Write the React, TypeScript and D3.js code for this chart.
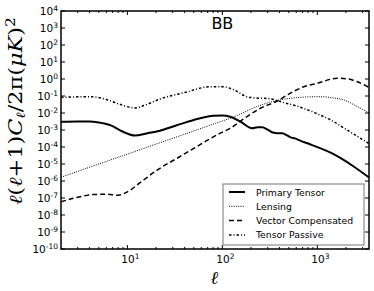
import React from "react";
import * as d3 from "d3";

// multipole values and BB spectra, l(l+1)C_l/2pi in uK^2
const tensorEll = [2, 3, 4, 5, 6.6, 9, 12, 16, 22, 32, 50, 81, 100, 121, 155, 206, 235, 262, 300, 340, 380, 427, 480, 522, 580, 667, 850, 1084, 1400, 1762, 2438, 3500];
const tensorCl = [3.1e-3, 3.2e-3, 3.2e-3, 2.8e-3, 1.95e-3, 7.9e-4, 4.7e-4, 6.3e-4, 9.1e-4, 1.78e-3, 3.9e-3, 6.9e-3, 7.1e-3, 6.0e-3, 3.1e-3, 1.26e-3, 1.45e-3, 1.45e-3, 1.05e-3, 7.1e-4, 6.5e-4, 6.5e-4, 4.8e-4, 3.7e-4, 3.2e-4, 2.3e-4, 1.4e-4, 8.3e-5, 4.5e-5, 2.2e-5, 6.9e-6, 1.6e-6];

const lensingEll = [2, 5, 10, 20, 50, 95, 121, 155, 214, 321, 500, 750, 1084, 1500, 1910, 2500, 3500];
const lensingCl = [1.66e-6, 1.0e-5, 3.8e-5, 1.48e-4, 8.7e-4, 3.1e-3, 4.9e-3, 8.7e-3, 2.0e-2, 4.4e-2, 7.1e-2, 8.7e-2, 9.1e-2, 7.6e-2, 5.8e-2, 2.8e-2, 1.0e-2];

const vectorEll = [2, 3, 4.4, 6, 8, 10, 14, 22, 32, 50, 95, 121, 180, 252, 378, 500, 721, 1000, 1625, 2000, 2600, 3500];
const vectorCl = [6.0e-8, 1.1e-7, 1.6e-7, 1.66e-7, 1.45e-7, 2.3e-7, 9.1e-7, 5.6e-6, 1.9e-5, 8.3e-5, 6.5e-4, 1.26e-3, 6.0e-3, 1.9e-2, 5.1e-2, 0.13, 0.35, 0.56, 1.1, 1.05, 0.71, 0.32];

const passiveEll = [2, 3, 4, 6, 8, 12, 16, 22, 40, 75, 100, 130, 182, 240, 296, 450, 615, 1000, 1380, 2000, 3500];
const passiveCl = [8.3e-2, 8.9e-2, 9.1e-2, 6.3e-2, 3.5e-2, 2.0e-2, 3.2e-2, 6.6e-2, 0.16, 0.35, 0.35, 0.24, 9.1e-2, 7.4e-2, 7.2e-2, 4.0e-2, 2.5e-2, 8.9e-3, 3.9e-3, 1.1e-3, 1.6e-4];

const xMajor = [10, 100, 1000];
const xExp = ["1", "2", "3"];
const yExps = [4, 3, 2, 1, 0, -1, -2, -3, -4, -5, -6, -7, -8, -9, -10];

const series = [
  { name: "Primary Tensor", ell: tensorEll, cl: tensorCl, width: 2, dash: "" },
  { name: "Lensing", ell: lensingEll, cl: lensingCl, width: 1, dash: "1,1.3" },
  { name: "Vector Compensated", ell: vectorEll, cl: vectorCl, width: 1.5, dash: "5,3" },
  { name: "Tensor Passive", ell: passiveEll, cl: passiveCl, width: 1.5, dash: "2.5,2,1,2" },
];

export default function App() {
  const width = 374;
  const height = 291;
  const margin = { top: 11, right: 5, bottom: 42, left: 61 };
  const x0 = margin.left;
  const x1 = width - margin.right;
  const y0 = margin.top;
  const y1 = height - margin.bottom;

  const x = d3.scaleLog().domain([2, 3500]).range([x0, x1]);
  const y = d3.scaleLog().domain([1e-10, 1e4]).range([y1, y0]);

  const line = d3
    .line<[number, number]>()
    .x((d) => x(d[0]))
    .y((d) => y(d[1]))
    .curve(d3.curveMonotoneX);

  // minor ticks on the x axis (2..9 per decade)
  const minor: number[] = [];
  [1, 10, 100, 1000].forEach((dec) => {
    for (let k = 2; k <= 9; k++) {
      const v = dec * k;
      if (v > 2 && v < 3500) minor.push(v);
    }
  });

  const sans = "DejaVu Sans, sans-serif";
  const serif = "DejaVu Serif, serif";

  return (
    <svg
      width={width}
      height={height}
      style={{ position: "absolute", left: 0, top: 0, background: "#fff" }}
    >
      <defs>
        <clipPath id="plot">
          <rect x={x0} y={y0} width={x1 - x0} height={y1 - y0} />
        </clipPath>
      </defs>

      <g clipPath="url(#plot)" fill="none" stroke="#000">
        {series.map((s) => (
          <path
            key={s.name}
            d={line(s.ell.map((e, i) => [e, s.cl[i]] as [number, number])) || ""}
            strokeWidth={s.width}
            strokeDasharray={s.dash}
          />
        ))}
      </g>

      {/* ticks, inward on all sides */}
      <g stroke="#000" strokeWidth={1}>
        {xMajor.map((v) => (
          <g key={"xm" + v}>
            <line x1={x(v)} x2={x(v)} y1={y1} y2={y1 - 4} />
            <line x1={x(v)} x2={x(v)} y1={y0} y2={y0 + 4} />
          </g>
        ))}
        {minor.map((v) => (
          <g key={"xn" + v}>
            <line x1={x(v)} x2={x(v)} y1={y1} y2={y1 - 2} />
            <line x1={x(v)} x2={x(v)} y1={y0} y2={y0 + 2} />
          </g>
        ))}
        {yExps.map((e) => (
          <g key={"ym" + e}>
            <line x1={x0} x2={x0 + 4} y1={y(Math.pow(10, e))} y2={y(Math.pow(10, e))} />
            <line x1={x1} x2={x1 - 4} y1={y(Math.pow(10, e))} y2={y(Math.pow(10, e))} />
          </g>
        ))}
      </g>

      <rect
        x={x0}
        y={y0}
        width={x1 - x0}
        height={y1 - y0}
        fill="none"
        stroke="#000"
        strokeWidth={1.5}
      />

      {/* y tick labels */}
      <g fontFamily={sans} fontSize={10.5} textAnchor="end" fill="#000">
        {yExps.map((e) => (
          <text key={"yl" + e} x={x0 - 3} y={y(Math.pow(10, e)) + 4}>
            10
            <tspan fontSize={7.5} dy={-4.5}>
              {String(e)}
            </tspan>
          </text>
        ))}
      </g>

      {/* x tick labels */}
      <g fontFamily={sans} fontSize={10.5} textAnchor="middle" fill="#000">
        {xMajor.map((v, i) => (
          <text key={"xl" + v} x={x(v) + 3} y={y1 + 14}>
            10
            <tspan fontSize={7.5} dy={-4.5}>
              {xExp[i]}
            </tspan>
          </text>
        ))}
      </g>

      <text x={x(100)} y={29} textAnchor="middle" fontFamily={sans} fontSize={16}>
        BB
      </text>

      <text
        x={x(100) - 8}
        y={284}
        textAnchor="middle"
        fontFamily={serif}
        fontStyle="italic"
        fontSize={18}
      >
        ℓ
      </text>

      <text
        transform="translate(22,111) rotate(-90)"
        textAnchor="middle"
        fontFamily={serif}
        fontSize={18}
        textLength={188}
        lengthAdjust="spacingAndGlyphs"
      >
        <tspan fontStyle="italic">ℓ</tspan>
        <tspan>(</tspan>
        <tspan fontStyle="italic">ℓ</tspan>
        <tspan>+1)</tspan>
        <tspan fontStyle="italic">C</tspan>
        <tspan fontStyle="italic" fontSize={12.5} dy={3}>ℓ</tspan>
        <tspan dy={-3}>/2π(</tspan>
        <tspan fontStyle="italic">μK</tspan>
        <tspan>)</tspan>
        <tspan fontSize={12.5} dy={-7.5}>2</tspan>
      </text>

      {/* legend */}
      <g>
        <rect x={223} y={184} width={141} height={61} fill="#fff" stroke="#777" strokeWidth={1} />
        {series.map((s, i) => {
          const ly = 192 + i * 14.3;
          return (
            <g key={"lg" + s.name}>
              <line
                x1={229}
                x2={245}
                y1={ly}
                y2={ly}
                stroke="#000"
                strokeWidth={s.width}
                strokeDasharray={s.dash}
              />
              <text x={256} y={ly + 3.5} fontFamily={sans} fontSize={9.3}>
                {s.name}
              </text>
            </g>
          );
        })}
      </g>
    </svg>
  );
}
